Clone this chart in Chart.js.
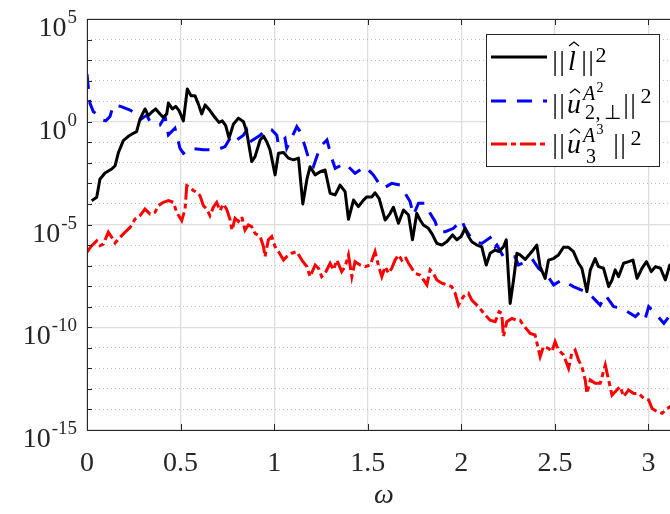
<!DOCTYPE html>
<html>
<head>
<meta charset="utf-8">
<script src="https://cdn.jsdelivr.net/npm/chart.js@4/dist/chart.umd.min.js"></script>
<style>
  html, body { margin: 0; padding: 0; overflow: hidden; background: #fff; }
  #wrap { position: relative; width: 700px; height: 514px; }
</style>
</head>
<body>
<div id="wrap"><canvas id="spectrum" width="700" height="514"></canvas></div>
<script>
// ||l^||^2
const omegaL = [0.025,0.052,0.069,0.096,0.132,0.150,0.168,0.194,0.221,0.248,
  0.265,0.283,0.310,0.328,0.345,0.367,0.390,0.408,0.426,0.435,
  0.456,0.474,0.492,0.515,0.536,0.556,0.577,0.595,0.613,0.631,
  0.657,0.684,0.705,0.723,0.741,0.759,0.782,0.809,0.836,0.853,
  0.880,0.898,0.925,0.943,0.960,0.978,1.005,1.023,1.050,1.076,
  1.103,1.130,1.153,1.175,1.192,1.219,1.246,1.272,1.299,1.326,
  1.352,1.379,1.397,1.424,1.450,1.477,1.495,1.522,1.539,1.561,
  1.593,1.620,1.637,1.664,1.691,1.718,1.739,1.762,1.780,1.797,
  1.824,1.842,1.869,1.896,1.922,1.953,1.976,1.999,2.020,2.038,
  2.056,2.083,2.109,2.133,2.154,2.181,2.202,2.225,2.240,2.252,
  2.261,2.279,2.297,2.314,2.341,2.377,2.403,2.421,2.448,2.466,
  2.492,2.519,2.546,2.573,2.599,2.626,2.644,2.671,2.689,2.715,
  2.733,2.760,2.787,2.805,2.822,2.840,2.867,2.894,2.917,2.939,
  2.965,2.989,3.015,3.037,3.064,3.090,3.114,3.140];
const normL = [1.45e-4,2.1e-4,1.6e-3,3.2e-3,5.0e-3,7.2e-3,3.2e-2,0.12,0.195,0.275,
  0.33,1.35,4.2,2.0,2.9,4.2,2.4,1.6,2.4,8.1,
  4.2,5.6,3.5,1.1,39,18.6,18.6,7.2,2.4,6.6,
  3.5,1.6,0.93,1.1,0.65,0.16,0.76,1.5,1.0,0.33,
  1.15e-2,2.0e-2,0.13,0.2,0.107,4.3e-2,2.6e-3,2.9e-2,3.2e-2,1.7e-2,
  1.4e-2,1.7e-2,1.0e-4,1.6e-3,6.5e-3,2.6e-3,3.7e-3,4.5e-3,3.3e-4,2.75e-4,
  8.3e-4,4.0e-4,1.8e-5,1.55e-4,7.4e-5,1.55e-4,2.2e-4,2.2e-4,3.5e-4,1.8e-4,
  1.65e-5,3.5e-5,6.9e-5,1.15e-5,5.1e-5,2.9e-5,1.8e-6,3.5e-5,1.65e-5,9.5e-6,
  6.5e-6,3.7e-6,1.2e-6,1.0e-6,1.45e-6,3.1e-6,1.8e-6,2.6e-6,6.5e-6,2.6e-6,
  1.45e-6,1.0e-6,8.3e-7,1.07e-7,4.0e-7,5.75e-7,4.8e-7,8.3e-7,1.8e-6,2.9e-8,
  1.45e-9,2.0e-8,4.0e-7,3.3e-7,2.0e-7,4.8e-7,1.0e-6,8.9e-8,2.4e-8,1.86e-7,
  2.2e-7,3.3e-7,7.8e-7,7.8e-7,4.8e-7,1.3e-7,7.4e-8,5.4e-9,6.2e-8,2.2e-7,
  8.9e-8,7.4e-8,9.5e-9,2.0e-8,6.2e-8,2.9e-8,1.3e-7,1.55e-7,1.86e-7,2.4e-8,
  7.4e-8,1.55e-7,5.1e-8,8.9e-8,7.4e-8,2.0e-8,1.07e-7,8e-8];

// ||u^_{2,perp}^{A^2}||^2
const omegaU2 = [0.000,0.007,0.016,0.034,0.061,0.078,0.100,0.123,0.141,0.180,
  0.230,0.257,0.283,0.319,0.337,0.390,0.417,0.435,0.470,0.497,
  0.515,0.551,0.622,0.693,0.738,0.773,0.800,0.836,0.853,0.871,
  0.925,0.960,0.987,1.014,1.023,1.058,1.067,1.121,1.139,1.148,
  1.165,1.192,1.210,1.246,1.282,1.308,1.326,1.379,1.432,1.486,
  1.530,1.557,1.584,1.628,1.673,1.700,1.726,1.744,1.771,1.807,
  1.833,1.860,1.878,1.914,1.958,2.002,2.020,2.047,2.074,2.109,
  2.163,2.181,2.190,2.225,2.287,2.305,2.377,2.412,2.457,2.493,
  2.537,2.599,2.662,2.698,2.742,2.769,2.814,2.858,2.930,2.957,
  2.983,3.001,3.028,3.082,3.109,3.140];
const normU2 = [209,48,7.9,3.1,2.1,1.23,1.1,1.8,6.6,5.6,
  3.7,2.6,1.23,2.1,1.0,0.69,1.8,0.23,0.48,0.051,
  0.029,0.051,0.043,0.043,0.062,0.22,0.13,0.22,0.40,0.107,
  0.22,0.48,0.40,0.22,0.074,0.155,0.051,0.58,0.33,0.19,
  0.062,9.5e-3,6.6e-3,0.062,0.13,0.0166,5.4e-3,9.5e-3,3.1e-3,6.6e-3,
  2.6e-3,1.1e-3,5.8e-4,1.0e-3,8.3e-4,3.3e-4,1.3e-4,2.9e-5,1.07e-4,1.07e-4,
  3.5e-5,1.4e-5,4.5e-6,4.5e-6,6.5e-6,1.65e-5,6.5e-6,2.6e-6,1.45e-6,1.2e-6,
  2.6e-6,8.3e-7,1.0e-6,2.7e-7,2.7e-7,1.07e-7,2.2e-7,7.4e-8,3.5e-8,1.15e-8,
  2.0e-8,9.5e-9,5.4e-9,3.1e-9,1.2e-9,3.7e-9,1.0e-9,8.3e-10,3.3e-10,5.75e-10,
  2.7e-10,1.0e-9,5.75e-10,1.55e-10,3.3e-10,2.5e-10];

// ||u^_3^{A^3}||^2
const omegaU3 = [0.000,0.025,0.052,0.069,0.087,0.114,0.132,0.150,0.168,0.203,
  0.230,0.257,0.283,0.310,0.337,0.363,0.381,0.408,0.435,0.462,
  0.479,0.506,0.524,0.533,0.551,0.568,0.586,0.604,0.622,0.640,
  0.657,0.675,0.693,0.711,0.728,0.746,0.764,0.775,0.791,0.809,
  0.827,0.844,0.862,0.880,0.898,0.925,0.943,0.951,0.969,0.987,
  1.005,1.023,1.050,1.067,1.094,1.121,1.148,1.175,1.192,1.219,
  1.237,1.254,1.272,1.299,1.317,1.335,1.361,1.379,1.397,1.415,
  1.432,1.459,1.486,1.513,1.539,1.557,1.575,1.593,1.611,1.628,
  1.646,1.664,1.682,1.700,1.718,1.735,1.753,1.780,1.816,1.833,
  1.851,1.869,1.896,1.922,1.949,1.967,1.985,2.011,2.038,2.056,
  2.092,2.127,2.154,2.181,2.202,2.216,2.225,2.243,2.270,2.297,
  2.314,2.330,2.345,2.368,2.394,2.421,2.439,2.466,2.484,2.501,
  2.519,2.546,2.573,2.590,2.608,2.626,2.644,2.662,2.671,2.689,
  2.715,2.742,2.769,2.787,2.805,2.831,2.849,2.867,2.894,2.921,
  2.948,2.974,3.001,3.019,3.046,3.073,3.100,3.117,3.140];
const normU3 = [4.5e-7,9.3e-7,1.6e-6,9.3e-7,1.1e-6,4.2e-6,2.4e-6,1.26e-6,1.95e-6,4.2e-6,
  7.2e-6,1.86e-5,2.7e-5,5.6e-5,3.2e-5,3.9e-5,8.3e-5,1.2e-4,1.45e-4,1.2e-4,
  3.9e-5,1.55e-5,5.6e-5,7.8e-4,6.5e-4,4.5e-4,3.7e-4,2.5e-4,8.3e-5,5.6e-5,
  2.7e-5,6.9e-5,1.2e-4,4.7e-5,1.0e-4,5.6e-5,1.8e-5,5.2e-6,2.0e-5,1.4e-5,
  2.4e-5,5.4e-6,9.5e-6,7.8e-6,3.7e-6,2.6e-6,8.3e-7,2.7e-7,1.8e-6,2.6e-6,
  8.3e-7,4.8e-7,1.86e-7,2.7e-7,4.0e-7,4.8e-7,1.86e-7,8.9e-8,2.9e-8,1.07e-7,
  7.4e-8,2.9e-8,4.2e-8,1.3e-7,6.2e-8,1.86e-7,5.1e-8,8.9e-8,3.3e-7,2.9e-8,
  1.55e-7,1.07e-7,8.9e-8,1.07e-7,4.8e-7,1.0e-7,2.9e-8,8.9e-8,4.2e-8,7.4e-8,
  1.86e-7,3.3e-7,1.86e-7,2.7e-7,1.3e-7,7.4e-8,4.2e-8,3.5e-8,1.15e-8,6.2e-8,
  4.2e-8,2.0e-8,1.4e-8,1.15e-8,9.5e-9,4.5e-9,1.2e-9,3.1e-9,4.5e-9,2.1e-9,
  1.0e-9,4.0e-10,2.2e-10,1.86e-10,5.75e-10,4.8e-10,3.5e-11,1.86e-10,2.7e-10,2.2e-10,
  2.2e-10,1.3e-10,8.9e-11,5.0e-11,4.2e-11,3.7e-12,1.15e-11,9.3e-12,6.5e-12,2.0e-11,
  7.8e-12,4.5e-12,1.0e-12,5.4e-12,7.8e-12,2.6e-12,1.2e-12,2.7e-13,6.0e-14,2.7e-13,
  1.86e-13,1.86e-13,1.45e-12,2.7e-13,5.0e-14,8.9e-14,1.3e-13,4.2e-14,8.9e-14,6.0e-14,
  6.0e-14,3.5e-14,2.9e-14,1.1e-14,7.8e-15,6.5e-15,1.1e-14,1.4e-14,1.6e-14];

// axes
const xTicks = [0, 0.5, 1, 1.5, 2, 2.5, 3];
const xTickLabels = ['0', '0.5', '1', '1.5', '2', '2.5', '3'];
const yDecades = [1e-15,1e-14,1e-13,1e-12,1e-11,1e-10,1e-9,1e-8,1e-7,1e-6,
  1e-5,1e-4,1e-3,1e-2,1e-1,1e0,1e1,1e2,1e3,1e4,1e5];
const yLabelTicks = [1e-15, 1e-10, 1e-5, 1e0, 1e5];
const yLabelExps = ['-15', '-10', '-5', '0', '5'];

const SERIF = '"Liberation Serif", "Times New Roman", serif';
const AX = '#262626';
const isMajor = v => yLabelTicks.includes(v);
const pts = (xs, ys) => xs.map((w, i) => ({ x: w, y: ys[i] }));

// tick marks, box, tick labels and the legend, MATLAB style
const matlabAxes = {
  id: 'matlabAxes',
  afterDraw(chart) {
    const { ctx, chartArea: a, scales: { x, y } } = chart;
    ctx.save();
    ctx.strokeStyle = AX;
    ctx.lineWidth = 1;
    ctx.strokeRect(a.left + 0.5, a.top + 0.5, a.right - a.left, a.bottom - a.top);
    ctx.beginPath();
    xTicks.forEach(v => {
      const px = Math.round(x.getPixelForValue(v)) + 0.5;
      ctx.moveTo(px, a.bottom); ctx.lineTo(px, a.bottom - 6);
      ctx.moveTo(px, a.top); ctx.lineTo(px, a.top + 6);
    });
    yDecades.forEach(v => {
      const py = Math.round(y.getPixelForValue(v)) + 0.5;
      ctx.moveTo(a.left, py); ctx.lineTo(a.left + 5, py);
      ctx.moveTo(a.right, py); ctx.lineTo(a.right - 5, py);
    });
    ctx.stroke();

    // tick labels
    ctx.fillStyle = AX;
    ctx.textBaseline = 'alphabetic';
    ctx.font = '28px ' + SERIF;
    ctx.textAlign = 'center';
    xTicks.forEach((v, i) => ctx.fillText(xTickLabels[i], x.getPixelForValue(v), 471));
    yLabelTicks.forEach((v, i) => {
      const py = y.getPixelForValue(v);
      ctx.font = '19px ' + SERIF;
      const ew = ctx.measureText(yLabelExps[i]).width;
      ctx.textAlign = 'right';
      ctx.fillText(yLabelExps[i], 77, py + 4);
      ctx.font = '28px ' + SERIF;
      ctx.fillText('10', 77 - ew - 1, py + 17);
    });
    ctx.textAlign = 'center';
    ctx.font = 'italic 28px ' + SERIF;
    ctx.fillText('\u03c9', (a.left + a.right) / 2 + 3, 503);

    // legend
    ctx.fillStyle = '#fff';
    ctx.fillRect(486, 34, 173, 132);
    ctx.strokeStyle = AX;
    ctx.strokeRect(486.5, 34.5, 173, 132);
    chart.data.datasets.forEach((ds, i) => {
      const ly = [57, 101, 144][i];
      ctx.beginPath();
      ctx.strokeStyle = ds.borderColor;
      ctx.lineWidth = ds.borderWidth;
      ctx.setLineDash(ds.borderDash || []);
      ctx.moveTo(491, ly); ctx.lineTo(547, ly);
      ctx.stroke();
    });
    ctx.setLineDash([]);
    ctx.fillStyle = '#000';
    ctx.strokeStyle = '#000';
    const put = (t, cx, by, size, italic) => {
      ctx.font = (italic ? 'italic ' : '') + size + 'px ' + SERIF;
      ctx.textAlign = 'center';
      ctx.fillText(t, cx, by);
    };
    const hat = (cx, ty) => {
      ctx.beginPath();
      ctx.lineWidth = 1.3;
      ctx.moveTo(cx - 5, ty + 4); ctx.lineTo(cx, ty); ctx.lineTo(cx + 5, ty + 4);
      ctx.stroke();
    };
    const bars = (cx, by) => { put('|', cx - 4, by, 28, false); put('|', cx + 3, by, 28, false); };
    // entry 1
    bars(559, 70); put('l', 572, 70, 28, true); hat(574, 42); bars(588, 70); put('2', 601, 62, 22, false);
    // entry 2
    bars(559, 113); put('u', 574, 113, 28, true); hat(575, 89);
    put('A', 589, 100, 20, true); put('2', 600, 92, 14, false);
    put('2', 590, 119, 20, false); put(',', 598, 119, 20, false); put('\u22a5', 612, 119, 20, false);
    bars(630, 113); put('2', 646, 103, 22, false);
    // entry 3
    bars(559, 153); put('u', 574, 153, 28, true); hat(575, 129);
    put('A', 589, 142, 20, true); put('3', 600, 134, 14, false);
    put('3', 591, 163, 20, false);
    bars(620, 153); put('2', 636, 145, 22, false);
    ctx.restore();
  }
};

new Chart(document.getElementById('spectrum'), {
  type: 'line',
  data: {
    datasets: [
      { label: 'l', data: pts(omegaL, normL), borderColor: '#000000', borderWidth: 3,
        borderJoinStyle: 'round' },
      { label: 'u2', data: pts(omegaU2, normU2), borderColor: '#0000ff', borderWidth: 3,
        borderDash: [15, 11] },
      { label: 'u3', data: pts(omegaU3, normU3), borderColor: '#ff0000', borderWidth: 3,
        borderDash: [16, 4, 5, 4] }
    ]
  },
  options: {
    responsive: false,
    animation: false,
    devicePixelRatio: 1,
    layout: { padding: { left: 0, top: 19, right: 25, bottom: 0 } },
    elements: { point: { radius: 0 }, line: { tension: 0, fill: false } },
    plugins: { legend: { display: false }, tooltip: { enabled: false } },
    scales: {
      x: {
        type: 'linear', min: 0, max: 3.1416,
        afterBuildTicks: s => { s.ticks = xTicks.map(v => ({ value: v })); },
        afterFit: s => { s.height = 84; },
        ticks: { display: false },
        grid: { color: '#dedede', lineWidth: 1.3, drawTicks: false },
        border: { display: false }
      },
      y: {
        type: 'logarithmic', min: 1e-15, max: 1e5,
        afterBuildTicks: s => { s.ticks = yDecades.map(v => ({ value: v })); },
        afterFit: s => { s.width = 87; },
        ticks: { display: false },
        grid: {
          drawTicks: false,
          color: c => isMajor(c.tick.value) ? '#dedede' : '#bdbdbd',
          lineWidth: c => isMajor(c.tick.value) ? 1.3 : 1
        },
        border: { display: false, dash: c => isMajor(c.tick.value) ? [] : [1, 3] }
      }
    }
  },
  plugins: [matlabAxes]
});
</script>
</body>
</html>
